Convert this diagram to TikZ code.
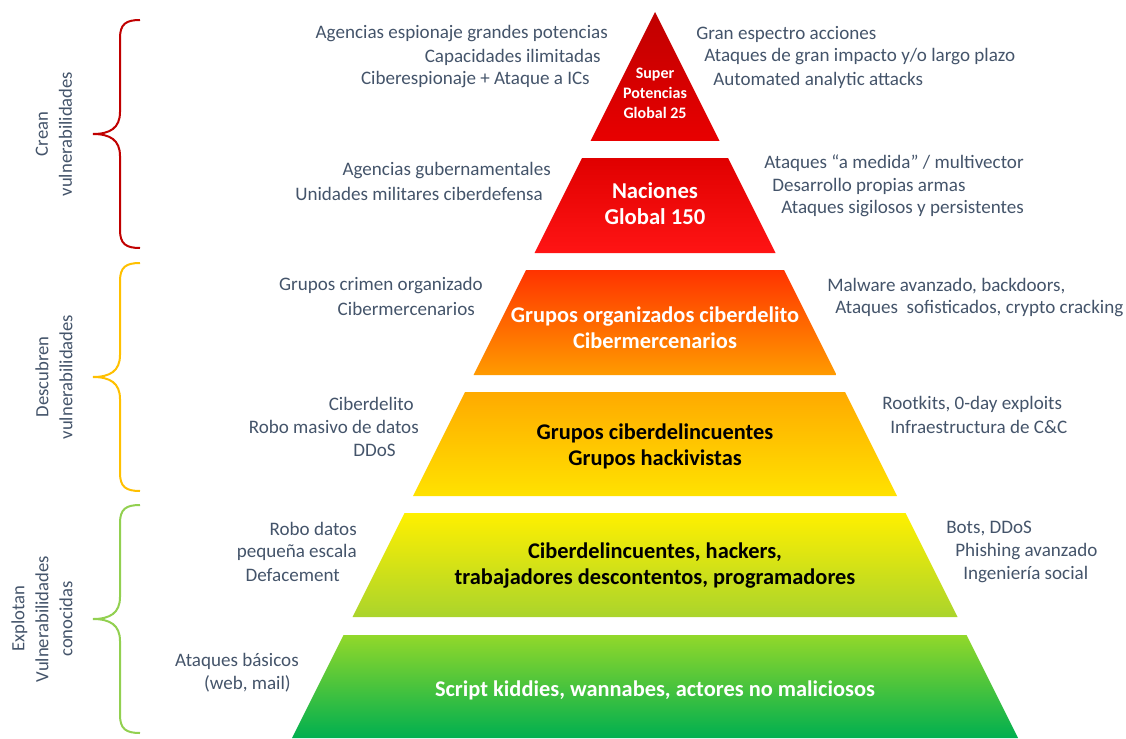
\documentclass[tikz,border=0pt]{standalone}
\usepackage{fontspec}
\setmainfont{Carlito}
\definecolor{txtgray}{HTML}{44546A}
\definecolor{braceRed}{HTML}{C00000}
\definecolor{braceYel}{HTML}{FFC000}
\definecolor{braceGrn}{HTML}{92D050}

\begin{document}
\begin{tikzpicture}[x=0.75pt, y=-0.75pt,
  side/.style={text=txtgray, font=\fontsize{14.3}{17}\selectfont, inner sep=0pt},
  lvl/.style={font=\bfseries\fontsize{16.8}{19.5}\selectfont, align=center},
  grp/.style={text=txtgray, font=\fontsize{14}{18}\selectfont, rotate=90, align=center}]
\useasboundingbox (0,0) rectangle (1126,738);

% pyramid top
\shade[top color={rgb,255:red,192;green,0;blue,0}, bottom color={rgb,255:red,232;green,0;blue,0}]
  (655,12) -- (719.5,141) -- (590.5,141) -- cycle;
% pyramid layers
\foreach \yt/\yb/\ct/\cb in {158/253/{rgb,255:red,224;green,0;blue,0}/{rgb,255:red,255;green,20;blue,20},
    270/375/{rgb,255:red,255;green,51;blue,0}/{rgb,255:red,255;green,155;blue,0},
    392/496/{rgb,255:red,255;green,170;blue,0}/{rgb,255:red,255;green,226;blue,0},
    513/617/{rgb,255:red,255;green,240;blue,0}/{rgb,255:red,170;green,212;blue,44},
    635/738/{rgb,255:red,146;green,216;blue,42}/{rgb,255:red,0;green,175;blue,80}}{
  \shade[top color=\ct, bottom color=\cb]
    ({655-0.5*(\yt-12)},\yt) -- ({655+0.5*(\yt-12)},\yt)
    -- ({655+0.5*(\yb-12)},\yb) -- ({655-0.5*(\yb-12)},\yb) -- cycle;
}

% level names
\node[lvl, text=white, font=\bfseries\fontsize{12}{15}\selectfont] (superp) at (655,93) {Super\\Potencias\\Global 25};
\node[lvl, text=white, font=\bfseries\fontsize{17}{19.5}\selectfont] (naciones) at (655,204) {Naciones\\Global 150};
\node[lvl, text=white] (organizados) at (655,328) {Grupos organizados ciberdelito\\Cibermercenarios};
\node[lvl] (grupos) at (655,446) {Grupos ciberdelincuentes\\Grupos hackivistas};
\node[lvl] (ciberdel) at (655,566) {Ciberdelincuentes, hackers,\\trabajadores descontentos, programadores};
\node[lvl, text=white] (kiddies) at (655,690) {Script kiddies, wannabes, actores no maliciosos};

% left side texts
\foreach \txt/\x/\y [count=\i] in {{Agencias espionaje grandes potencias}/608/34,
    {Capacidades ilimitadas}/601/57, {Ciberespionaje + Ataque a ICs}/590/80,
    {Agencias gubernamentales}/551/171, {Unidades militares ciberdefensa}/543/194,
    {Grupos crimen organizado}/483/286, {Cibermercenarios}/475/309,
    {Ciberdelito}/414/404, {Robo masivo de datos}/419/427, {DDoS}/396/450,
    {Robo datos}/357/529, {pequeña escala}/357/552, {Defacement}/340/575,
    {Ataques básicos}/299/661, {(web, mail)}/291/684}{
  \node[side, anchor=east] (left\i) at (\x,\y) {\txt};
}
% right side texts
\foreach \txt/\x/\y [count=\i] in {{Gran espectro acciones}/696/34,
    {Ataques de gran impacto y/o largo plazo}/704/57, {Automated analytic attacks}/713/80,
    {Ataques “a medida” / multivector}/764/163, {Desarrollo propias armas}/772/186,
    {Ataques sigilosos y persistentes}/781/209,
    {Malware avanzado, backdoors,}/827/286, {Ataques\ \ sofisticados, crypto cracking}/835/309,
    {Rootkits, 0-day exploits}/882/404, {Infraestructura de C\&C}/890/427,
    {Bots, DDoS}/946/529, {Phishing avanzado}/955/552, {Ingeniería social}/963/575}{
  \node[side, anchor=west] (right\i) at (\x,\y) {\txt};
}

% braces
\foreach \ya/\yb/\col in {20/248/braceRed, 263/491/braceYel, 505/733/braceGrn}{
  \pgfmathsetmacro{\ym}{(\ya+\yb)/2}
  \draw[\col, line width=1.5pt]
    (140,\ya) .. controls (126,\ya) and (120,\ya+4) .. (120,\ya+18)
    -- (120,\ym-22) .. controls (120,\ym-6) and (110,\ym) .. (93,\ym)
    .. controls (110,\ym) and (120,\ym+6) .. (120,\ym+22)
    -- (120,\yb-18) .. controls (120,\yb-4) and (126,\yb) .. (140,\yb);
}
\node[grp] (crean) at (54,134) {Crean\\vulnerabilidades};
\node[grp] (descubren) at (54,377) {Descubren\\vulnerabilidades};
\node[grp] (explotan) at (42,619) {Explotan\\Vulnerabilidades\\conocidas};
\end{tikzpicture}
\end{document}
